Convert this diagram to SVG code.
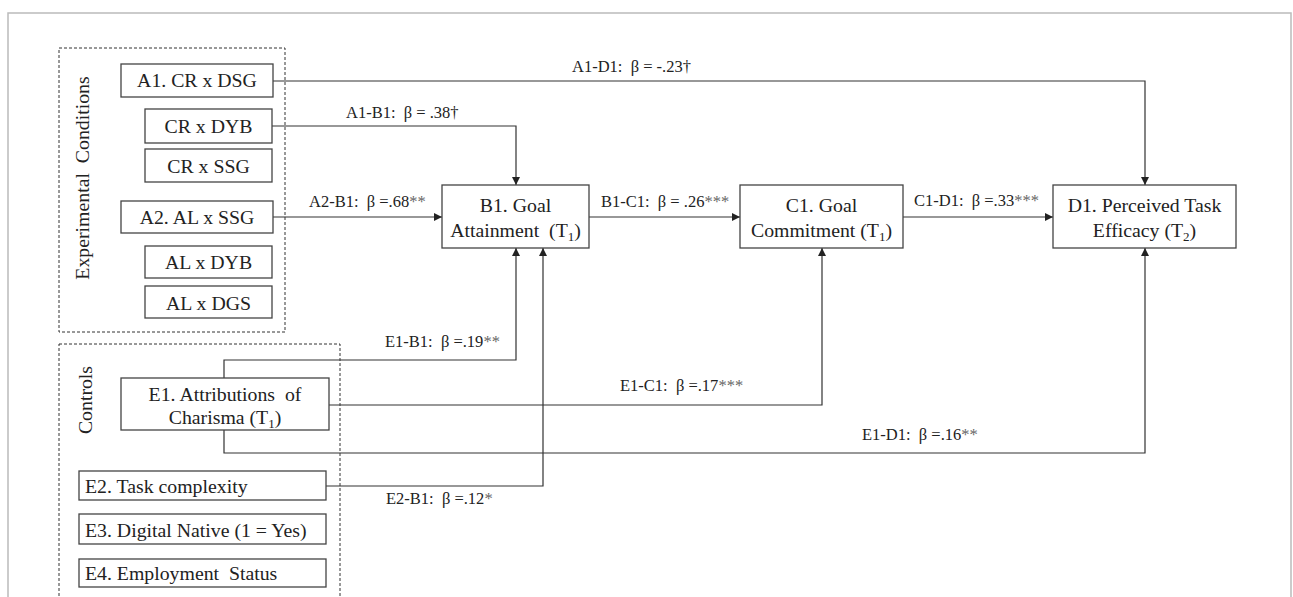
<svg xmlns="http://www.w3.org/2000/svg" width="1293" height="597" viewBox="0 0 1293 597" xml:space="preserve">
<style>
  text { font-family: "Liberation Serif", "Times New Roman", serif; fill: #222; white-space: pre; }
  .n { font-size: 19.8px; }
  .c { text-anchor: middle; }
  .lbl { font-size: 16.5px; }
  .box { fill: #fff; stroke: #444; stroke-width: 1.3; }
  .dash { fill: none; stroke: #333; stroke-width: 1; stroke-dasharray: 3 2; }
  .ln { fill: none; stroke: #333; stroke-width: 1.2; }
  .ast { fill: #666; }
</style>
<defs>
  <marker id="arr" viewBox="0 0 10 10" refX="10" refY="5" markerWidth="8" markerHeight="8" markerUnits="userSpaceOnUse" orient="auto">
    <path d="M0,0 L10,5 L0,10 z" fill="#222"/>
  </marker>
</defs>
<rect width="1293" height="597" fill="#fff"/>
<path d="M8,597 V13 H1291 V597" fill="none" stroke="#bbb" stroke-width="1.5"/>
<g id="group-experimental">
  <rect class="dash" x="59" y="48" width="226" height="284"/>
  <text class="n c" transform="translate(89,178) rotate(-90)">Experimental  Conditions</text>
</g>
<g id="group-controls">
  <rect class="dash" x="59" y="344" width="281" height="270"/>
  <text class="n c" transform="translate(92,400) rotate(-90)">Controls</text>
</g>
<g id="connectors">
  <path class="ln" d="M273,81 H1145 V185" marker-end="url(#arr)"/>
  <path class="ln" d="M272,126 H516 V185" marker-end="url(#arr)"/>
  <path class="ln" d="M273,217 H442" marker-end="url(#arr)"/>
  <path class="ln" d="M589,217 H740" marker-end="url(#arr)"/>
  <path class="ln" d="M903,217 H1053" marker-end="url(#arr)"/>
  <path class="ln" d="M224,378 V360 H516 V248" marker-end="url(#arr)"/>
  <path class="ln" d="M329,405 H822 V248" marker-end="url(#arr)"/>
  <path class="ln" d="M224,430 V453 H1145 V248" marker-end="url(#arr)"/>
  <path class="ln" d="M326,486 H543 V248" marker-end="url(#arr)"/>
  <text class="lbl" x="572" y="72">A1-D1:  β = -.23†</text>
  <text class="lbl" x="346" y="118">A1-B1:  β = .38†</text>
  <text class="lbl" x="309" y="207">A2-B1:  β =.68<tspan class="ast">**</tspan></text>
  <text class="lbl" x="601" y="207">B1-C1:  β = .26<tspan class="ast">***</tspan></text>
  <text class="lbl" x="914" y="206">C1-D1:  β =.33<tspan class="ast">***</tspan></text>
  <text class="lbl" x="385" y="347">E1-B1:  β =.19<tspan class="ast">**</tspan></text>
  <text class="lbl" x="620" y="391">E1-C1:  β =.17<tspan class="ast">***</tspan></text>
  <text class="lbl" x="862" y="440">E1-D1:  β =.16<tspan class="ast">**</tspan></text>
  <text class="lbl" x="386" y="504">E2-B1:  β =.12<tspan class="ast">*</tspan></text>
</g>
<g id="A1">
  <rect class="box" x="121" y="64" width="152" height="33"/>
  <text class="n c" x="197" y="87">A1. CR x DSG</text>
</g>
<g id="CRxDYB">
  <rect class="box" x="145" y="109" width="127" height="34"/>
  <text class="n c" x="208.5" y="133">CR x DYB</text>
</g>
<g id="CRxSSG">
  <rect class="box" x="145" y="149" width="127" height="33"/>
  <text class="n c" x="208.5" y="173">CR x SSG</text>
</g>
<g id="A2">
  <rect class="box" x="121" y="201" width="152" height="32"/>
  <text class="n c" x="197" y="224">A2. AL x SSG</text>
</g>
<g id="ALxDYB">
  <rect class="box" x="145" y="246" width="127" height="32"/>
  <text class="n c" x="208.5" y="269">AL x DYB</text>
</g>
<g id="ALxDGS">
  <rect class="box" x="145" y="286" width="127" height="32"/>
  <text class="n c" x="208.5" y="310">AL x DGS</text>
</g>
<g id="B1">
  <rect class="box" x="442" y="185" width="147" height="63"/>
  <text class="n c" x="515.5" y="212">B1. Goal</text>
  <text class="n c" x="515.5" y="237">Attainment  (T<tspan font-size="13" dy="4">1</tspan><tspan dy="-4">)</tspan></text>
</g>
<g id="C1">
  <rect class="box" x="740" y="185" width="163" height="63"/>
  <text class="n c" x="821.5" y="212">C1. Goal</text>
  <text class="n c" x="821.5" y="237">Commitment (T<tspan font-size="13" dy="4">1</tspan><tspan dy="-4">)</tspan></text>
</g>
<g id="D1">
  <rect class="box" x="1053" y="185" width="183" height="63"/>
  <text class="n c" x="1144.5" y="212">D1. Perceived Task</text>
  <text class="n c" x="1144.5" y="237">Efficacy (T<tspan font-size="13" dy="4">2</tspan><tspan dy="-4">)</tspan></text>
</g>
<g id="E1">
  <rect class="box" x="121" y="378" width="208" height="52"/>
  <text class="n c" x="225" y="401">E1. Attributions  of</text>
  <text class="n c" x="225" y="424">Charisma (T<tspan font-size="13" dy="4">1</tspan><tspan dy="-4">)</tspan></text>
</g>
<g id="E2">
  <rect class="box" x="79" y="471" width="247" height="29"/>
  <text class="n" x="85" y="493">E2. Task complexity</text>
</g>
<g id="E3">
  <rect class="box" x="79" y="514" width="247" height="30"/>
  <text class="n" x="85" y="537">E3. Digital Native (1 = Yes)</text>
</g>
<g id="E4">
  <rect class="box" x="79" y="559" width="247" height="28"/>
  <text class="n" x="85" y="580">E4. Employment  Status</text>
</g>
</svg>
